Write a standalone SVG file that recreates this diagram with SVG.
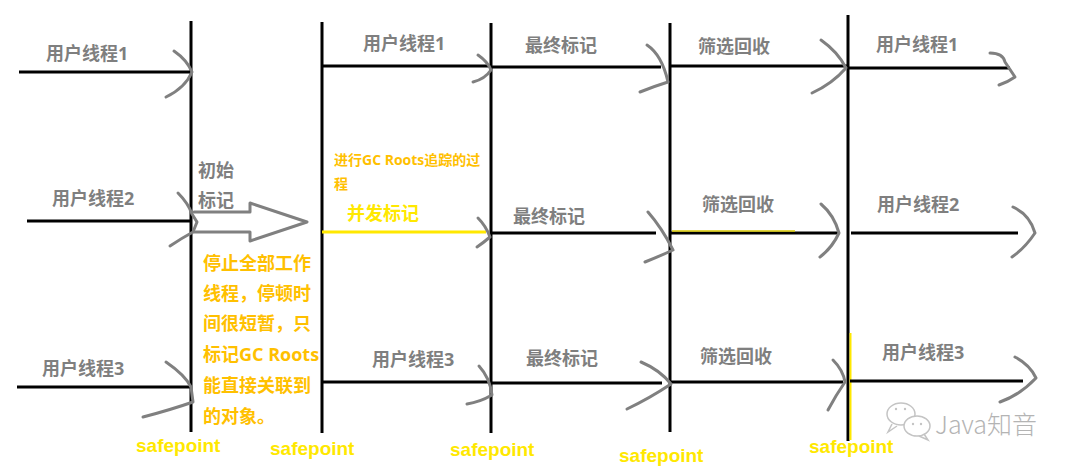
<svg xmlns="http://www.w3.org/2000/svg" width="1080" height="472" viewBox="0 0 1080 472">
<style>
.ln{stroke:#000;stroke-width:3;fill:none}
.yl{stroke:#FFE800;stroke-width:3;fill:none}
.ah{stroke:#808080;stroke-width:3;fill:none;stroke-linecap:round;stroke-linejoin:round}
.lb{font-family:"Open Sans","Noto Sans CJK SC",sans-serif;font-weight:bold;font-size:18px;fill:#7f7f7f}
.nt{font-family:"Open Sans","Noto Sans CJK SC",sans-serif;font-weight:bold;font-size:18px;fill:#FFC000}
.sn{font-family:"Open Sans","Noto Sans CJK SC",sans-serif;font-weight:bold;font-size:14px;fill:#FFC000}
.sp{font-family:"Liberation Sans","Noto Sans CJK SC",sans-serif;font-weight:bold;font-size:19px;fill:#FFE800}
.cm{font-family:"Open Sans","Noto Sans CJK SC",sans-serif;font-weight:bold;font-size:18px;fill:#FFE800}
.wm{font-family:"Noto Sans CJK SC",sans-serif;font-weight:300;font-size:25px;fill:#b4b4b4}
</style>
<rect width="1080" height="472" fill="#fff"/>
<g id="connectors">
  <!-- safepoint vertical lines -->
  <line class="ln" x1="191" y1="21" x2="191" y2="432"/>
  <line class="ln" x1="322" y1="22" x2="322" y2="433"/>
  <line class="ln" x1="491" y1="23" x2="491" y2="433"/>
  <line class="ln" x1="670" y1="23" x2="670" y2="432"/>
  <line class="ln" x1="848" y1="15" x2="848" y2="441"/>
  <line stroke="#FFE800" stroke-width="2" x1="850.5" y1="333" x2="850.5" y2="440"/>
  <!-- row 1 -->
  <line class="ln" x1="19" y1="72" x2="191" y2="72"/>
  <line class="ln" x1="322" y1="66" x2="491" y2="66"/>
  <line class="ln" x1="491" y1="67" x2="661" y2="67"/>
  <line class="ln" x1="670" y1="66" x2="848" y2="66"/>
  <line class="ln" x1="848" y1="68" x2="1010" y2="68"/>
  <!-- row 2 -->
  <line class="ln" x1="27" y1="221" x2="191" y2="221"/>
  <line class="yl" x1="322" y1="232" x2="486" y2="232"/>
  <line class="ln" x1="491" y1="233" x2="656" y2="233"/>
  <line class="ln" x1="670" y1="233" x2="838" y2="233"/>
  <line stroke="#d8c800" stroke-width="1.5" x1="672" y1="231" x2="795" y2="231"/>
  <line class="ln" x1="851" y1="233" x2="1018" y2="233"/>
  <!-- row 3 -->
  <line class="ln" x1="17" y1="387" x2="191" y2="387"/>
  <line class="ln" x1="322" y1="382" x2="491" y2="382"/>
  <line class="ln" x1="491" y1="383" x2="662" y2="383"/>
  <line class="ln" x1="670" y1="382" x2="843" y2="382"/>
  <line class="ln" x1="850" y1="381" x2="1023" y2="381"/>
  <!-- hand-drawn arrowheads -->
  <path class="ah" d="M174,51 Q187,60 192,72 Q185,88 166,97"/>
  <path class="ah" d="M478,55 Q488,62 491,70 Q485,79 473,82"/>
  <path class="ah" d="M647,45 Q662,55 668,82 Q655,86 640,92"/>
  <path class="ah" d="M821,40 Q838,52 846,68 Q832,84 812,93"/>
  <path class="ah" d="M990,53 Q1003,53 1005,62 L1015,77 Q1008,82 999,85"/>
  <path class="ah" d="M178,193 Q188,203 192,214 L197,222 L193,232 Q182,238 170,246"/>
  <path class="ah" d="M478,218 Q486,226 490,237 Q483,243 477,247"/>
  <path class="ah" d="M648,212 Q662,228 673,250 Q660,256 645,262"/>
  <path class="ah" d="M821,204 Q834,215 839,233 Q832,248 820,257"/>
  <path class="ah" d="M1013,207 Q1030,215 1035,233 Q1025,248 1012,257"/>
  <path class="ah" d="M166,362 Q185,375 191,387 L193,402 Q170,410 143,417"/>
  <path class="ah" d="M479,366 Q490,378 492,395 Q480,402 467,404"/>
  <path class="ah" d="M641,362 Q660,370 671,384 Q650,398 627,409"/>
  <path class="ah" d="M833,360 Q843,370 845,382 Q836,395 828,410"/>
  <path class="ah" d="M1015,357 Q1030,365 1036,378 Q1020,395 1000,402"/>
  <!-- big hollow arrow -->
  <path class="ah" d="M194,212 L250,212 L250,203 L307,222 L250,241 L250,232 L194,232"/>
</g>
<g id="col1">
  <text class="lb" x="46" y="60">用户线程1</text>
  <text class="lb" x="52" y="205">用户线程2</text>
  <text class="lb" x="42" y="375">用户线程3</text>
</g>
<g id="initial-mark">
  <text class="lb" x="198" y="177">初始</text>
  <text class="lb" x="198" y="207">标记</text>
  <text class="nt" x="203" y="270">停止全部工作</text>
  <text class="nt" x="203" y="300">线程，停顿时</text>
  <text class="nt" x="203" y="330">间很短暂，只</text>
  <text class="nt" x="203" y="361">标记GC Roots</text>
  <text class="nt" x="203" y="392">能直接关联到</text>
  <text class="nt" x="203" y="423">的对象。</text>
</g>
<g id="concurrent-mark">
  <text class="lb" x="363" y="50">用户线程1</text>
  <text class="sn" x="334" y="165">进行GC Roots追踪的过</text>
  <text class="sn" x="334" y="189">程</text>
  <text class="cm" x="347" y="220">并发标记</text>
  <text class="lb" x="372" y="366">用户线程3</text>
</g>
<g id="final-mark">
  <text class="lb" x="525" y="52">最终标记</text>
  <text class="lb" x="513" y="223">最终标记</text>
  <text class="lb" x="526" y="365">最终标记</text>
</g>
<g id="cleanup">
  <text class="lb" x="698" y="53">筛选回收</text>
  <text class="lb" x="702" y="211">筛选回收</text>
  <text class="lb" x="700" y="363">筛选回收</text>
</g>
<g id="resume">
  <text class="lb" x="876" y="51">用户线程1</text>
  <text class="lb" x="877" y="211">用户线程2</text>
  <text class="lb" x="882" y="359">用户线程3</text>
</g>
<g id="safepoints">
  <text class="sp" x="136" y="452">safepoint</text>
  <text class="sp" x="270" y="455">safepoint</text>
  <text class="sp" x="450" y="456">safepoint</text>
  <text class="sp" x="619" y="462">safepoint</text>
  <text class="sp" x="809" y="453">safepoint</text>
</g>
<g id="watermark" stroke="#c4c4c4" stroke-width="1.5" fill="#fff">
  <path d="M892,424 L888,432 L897,426"/>
  <ellipse cx="901" cy="414" rx="14" ry="11"/>
  <path d="M924,434 L928,440 L919,436"/>
  <ellipse cx="917" cy="426" rx="13" ry="10"/>
  <circle cx="896" cy="409" r="1.2" fill="#c4c4c4" stroke="none"/>
  <circle cx="905" cy="409" r="1.2" fill="#c4c4c4" stroke="none"/>
  <circle cx="913" cy="424" r="1.2" fill="#c4c4c4" stroke="none"/>
  <circle cx="921" cy="424" r="1.2" fill="#c4c4c4" stroke="none"/>
  <text class="wm" x="935" y="434" stroke="none">Java知音</text>
</g>
</svg>
